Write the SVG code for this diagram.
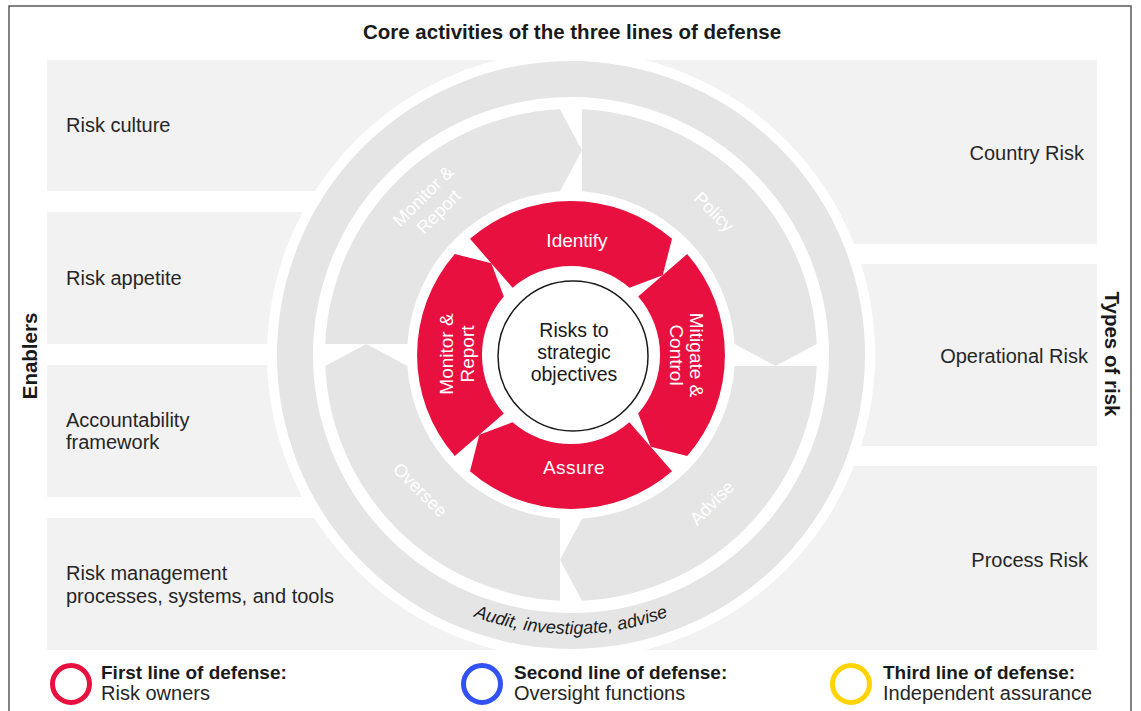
<svg xmlns="http://www.w3.org/2000/svg" width="1141" height="711" viewBox="0 0 1141 711">
<defs>
<style>
.panel{fill:#f2f2f2}
.ptxt{font-family:"Liberation Sans",Arial,sans-serif;font-size:20px;fill:#262626}
.head{font-family:"Liberation Sans",Arial,sans-serif;font-size:20.5px;font-weight:bold;fill:#1a1a1a}
.gseg{fill:#e5e5e5}
.gtxt{font-family:"Liberation Sans",Arial,sans-serif;font-size:18px;fill:#ffffff;text-anchor:middle}
.rseg{fill:#e8103f}
.rtxt{font-family:"Liberation Sans",Arial,sans-serif;font-size:19px;fill:#ffffff;text-anchor:middle}
.ctxt{font-family:"Liberation Sans",Arial,sans-serif;font-size:19.5px;fill:#1a1a1a;text-anchor:middle}
.lgb{font-family:"Liberation Sans",Arial,sans-serif;font-size:19px;font-weight:bold;fill:#1a1a1a}
.lgt{font-family:"Liberation Sans",Arial,sans-serif;font-size:20px;fill:#262626}
</style>
<path id="graySeg" d="M407.37,344 L325.25,344 A246,246 0 0 1 560,109.25 L582,150.3 L560,191.37 A164,164 0 0 0 407.37,344 Z"/>
<path id="redSeg" d="M503.8,413.4 L454.8,456 A154,154 0 0 1 454.8,254 L491.3,263.3 L503.8,296.6 A89,89 0 0 0 503.8,413.4 Z"/>
<path id="auditArc" d="M292,355 A279,279 0 0 0 850,355"/>
</defs>

<g id="frame">
<rect x="9" y="6" width="1122" height="730" fill="#ffffff" stroke="#595959" stroke-width="1.5"/>
<text class="head" x="572" y="39" text-anchor="middle" font-size="20.8">Core activities of the three lines of defense</text>
<text class="head" transform="translate(37,356) rotate(-90)" text-anchor="middle">Enablers</text>
<text class="head" transform="translate(1105,354) rotate(90)" text-anchor="middle">Types of risk</text>
</g>

<g id="enablers">
<g id="risk-culture"><rect class="panel" x="47" y="60" width="524" height="131"/><text class="ptxt" x="66" y="132">Risk culture</text></g>
<g id="risk-appetite"><rect class="panel" x="47" y="212" width="524" height="132"/><text class="ptxt" x="66" y="285">Risk appetite</text></g>
<g id="accountability"><rect class="panel" x="47" y="365" width="524" height="132"/><text class="ptxt" x="66" y="427">Accountability</text><text class="ptxt" x="66" y="449">framework</text></g>
<g id="risk-management"><rect class="panel" x="47" y="518" width="524" height="132"/><text class="ptxt" x="66" y="580">Risk management</text><text class="ptxt" x="66" y="603">processes, systems, and tools</text></g>
</g>

<g id="risk-types">
<g id="country-risk"><rect class="panel" x="571" y="60" width="526" height="184"/><text class="ptxt" x="1084" y="160" text-anchor="end">Country Risk</text></g>
<g id="operational-risk"><rect class="panel" x="571" y="264" width="526" height="182"/><text class="ptxt" x="1088" y="363" text-anchor="end">Operational Risk</text></g>
<g id="process-risk"><rect class="panel" x="571" y="466" width="526" height="184"/><text class="ptxt" x="1088" y="567" text-anchor="end">Process Risk</text></g>
</g>

<g id="third-line">
<circle cx="571" cy="355" r="304" fill="#ffffff"/>
<circle cx="571" cy="355" r="276" fill="none" stroke="#e5e5e5" stroke-width="36"/>
<text font-family="'Liberation Sans',Arial,sans-serif" font-size="18" font-style="italic" fill="#1a1a1a"><textPath href="#auditArc" startOffset="50%" text-anchor="middle">Audit, investigate, advise</textPath></text>
</g>

<g id="second-line">
<g id="g-monitor"><use href="#graySeg" class="gseg"/><text class="gtxt" transform="translate(431,204) rotate(-45)"><tspan x="0" y="-5">Monitor &amp;</tspan><tspan x="0" y="17">Report</tspan></text></g>
<g id="g-policy"><use href="#graySeg" class="gseg" transform="rotate(90 571 355)"/><text class="gtxt" transform="translate(714,212) rotate(45)" y="6">Policy</text></g>
<g id="g-advise"><use href="#graySeg" class="gseg" transform="rotate(180 571 355)"/><text class="gtxt" transform="translate(712,503) rotate(-45)" y="6">Advise</text></g>
<g id="g-oversee"><use href="#graySeg" class="gseg" transform="rotate(270 571 355)"/><text class="gtxt" transform="translate(420,490) rotate(45)" y="6">Oversee</text></g>
</g>

<g id="first-line">
<g id="r-monitor"><use href="#redSeg" class="rseg"/><text class="rtxt" transform="translate(457,354) rotate(-90)"><tspan x="0" y="-4">Monitor &amp;</tspan><tspan x="0" y="17">Report</tspan></text></g>
<g id="r-identify"><use href="#redSeg" class="rseg" transform="rotate(90 571 355)"/><text class="rtxt" x="577" y="247">Identify</text></g>
<g id="r-mitigate"><use href="#redSeg" class="rseg" transform="rotate(180 571 355)"/><text class="rtxt" transform="translate(686,355) rotate(90)"><tspan x="0" y="-4">Mitigate &amp;</tspan><tspan x="0" y="16">Control</tspan></text></g>
<g id="r-assure"><use href="#redSeg" class="rseg" transform="rotate(270 571 355)"/><text class="rtxt" x="574" y="474" letter-spacing="0.5">Assure</text></g>
</g>

<g id="core">
<circle cx="573" cy="356" r="75" fill="#ffffff" stroke="#1a1a1a" stroke-width="1.5"/>
<text class="ctxt"><tspan x="574" y="337">Risks to</tspan><tspan x="574" y="359">strategic</tspan><tspan x="574" y="381">objectives</tspan></text>
</g>

<g id="legend">
<g id="legend-first"><circle cx="71" cy="684" r="18.5" fill="none" stroke="#e8103f" stroke-width="5"/><text class="lgb" x="101" y="679">First line of defense:</text><text class="lgt" x="101" y="700">Risk owners</text></g>
<g id="legend-second"><circle cx="482" cy="684" r="18.5" fill="none" stroke="#3352f5" stroke-width="5"/><text class="lgb" x="514" y="679">Second line of defense:</text><text class="lgt" x="514" y="700">Oversight functions</text></g>
<g id="legend-third"><circle cx="851" cy="684" r="18.5" fill="none" stroke="#ffd400" stroke-width="5"/><text class="lgb" x="883" y="679">Third line of defense:</text><text class="lgt" x="883" y="700">Independent assurance</text></g>
</g>
</svg>
